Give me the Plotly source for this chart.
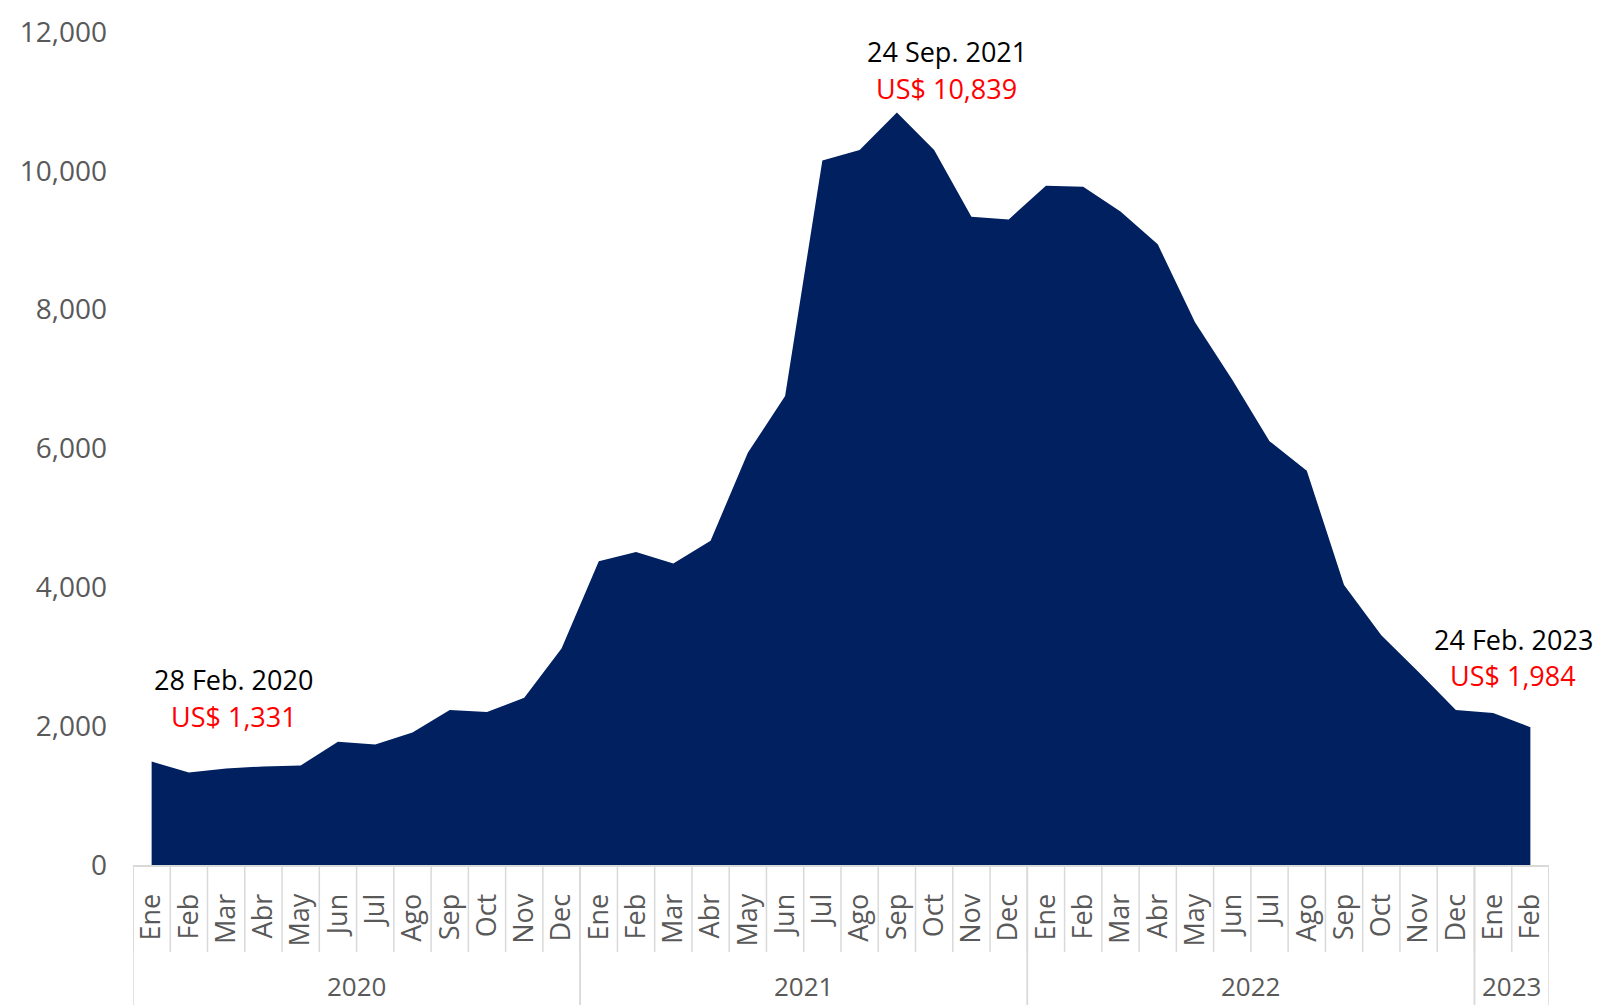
import plotly.graph_objects as go

years = ["2020"] * 12 + ["2021"] * 12 + ["2022"] * 12 + ["2023"] * 2
month_names = ["Ene", "Feb", "Mar", "Abr", "May", "Jun", "Jul", "Ago", "Sep", "Oct", "Nov", "Dec"]
months = month_names * 3 + ["Ene", "Feb"]

values = [
    1490, 1331, 1390, 1420, 1434, 1774, 1735, 1910, 2232, 2205, 2410, 3120,
    4375, 4510, 4345, 4670, 5940, 6755, 10150, 10300, 10839, 10300, 9340, 9300,
    9784, 9770, 9415, 8942, 7820, 6990, 6105, 5680, 4035, 3311, 2780, 2232,
    2190, 1984,
]

y_ticks = [0, 2000, 4000, 6000, 8000, 10000, 12000]

callout_idx = [1, 20, 37]
callout_date = ["28 Feb. 2020", "24 Sep. 2021", "24 Feb. 2023"]
callout_value = ["US$ 1,331", "US$ 10,839", "US$ 1,984"]

# styling offsets (pixels) for the callouts: (xshift, date yshift, value yshift)
callout_style = [(45, 93, 56), (50, 61, 24), (-17, 88, 52)]

FONT = "Open Sans"
GREY = "#595959"
LINE = "#d9d9d9"
NAVY = "#002060"

M_T, M_B = 24, 148
PLOT_H = 1005 - M_T - M_B  # plot area height in px

idx = list(range(len(values)))

fig = go.Figure()
fig.add_trace(go.Scatter(
    x=idx,
    y=values,
    mode="lines",
    line=dict(width=0, color=NAVY),
    fill="tozeroy",
    fillcolor=NAVY,
    hoverinfo="skip",
))

# month separators
for i in range(len(values) + 1):
    fig.add_shape(type="line", xref="x", yref="paper",
                  x0=i - 0.5, x1=i - 0.5, y0=0, y1=-87 / PLOT_H,
                  line=dict(color=LINE, width=1.5), layer="below")

# year dividers and year labels
groups = []
for i, yr in enumerate(years):
    if not groups or groups[-1][0] != yr:
        groups.append([yr, i, i])
    else:
        groups[-1][2] = i
for yr, a, b in groups:
    for xb in (a - 0.5, b + 0.5):
        fig.add_shape(type="line", xref="x", yref="paper",
                      x0=xb, x1=xb, y0=0, y1=-0.2,
                      line=dict(color=LINE, width=1.5), layer="below")
    fig.add_annotation(x=(a + b) / 2, y=-121 / PLOT_H, xref="x", yref="paper",
                       text=yr, showarrow=False, yanchor="middle",
                       font=dict(family=FONT, size=26, color=GREY))

for k, i in enumerate(callout_idx):
    xs, ys_d, ys_v = callout_style[k]
    fig.add_annotation(
        x=i, y=values[i], xref="x", yref="y",
        text=callout_value[k], showarrow=False, xshift=xs, yshift=ys_v,
        yanchor="middle", font=dict(family=FONT, size=27, color="#ff0000"),
    )
    fig.add_annotation(
        x=i, y=values[i], xref="x", yref="y",
        text=callout_date[k], showarrow=False, xshift=xs, yshift=ys_d,
        yanchor="middle", font=dict(family=FONT, size=27, color="#000000"),
    )

fig.update_layout(
    width=1609, height=1005,
    margin=dict(l=125, r=68, t=M_T, b=M_B),
    paper_bgcolor="white", plot_bgcolor="white",
    showlegend=False,
    font=dict(family=FONT, size=26, color=GREY),
)
fig.update_xaxes(
    range=[-0.5, len(values) - 0.5],
    tickvals=idx, ticktext=months,
    showline=True, linecolor=LINE, linewidth=2,
    ticks="", tickangle=-90, ticklabelstandoff=16,
    tickfont=dict(family=FONT, size=27, color=GREY),
    showgrid=False, zeroline=False, automargin=False,
)
fig.update_yaxes(
    range=[0, 12000],
    tickvals=y_ticks, tickformat=",",
    showgrid=False, zeroline=False, showline=False,
    tickfont=dict(family=FONT, size=28, color=GREY),
    ticks="", ticklabelstandoff=25, automargin=False,
)

fig.write_html("out.html")
